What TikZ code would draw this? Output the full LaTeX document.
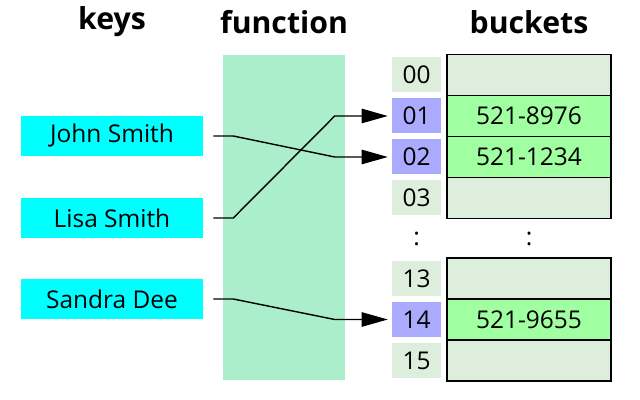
\documentclass[tikz,border=0pt]{standalone}
\usepackage{fontspec}
\setmainfont{Open Sans}
\usetikzlibrary{arrows.meta}
\definecolor{keycol}{HTML}{00FFFF}
\definecolor{funccol}{HTML}{AAEECC}
\definecolor{idxcol}{HTML}{DDEEDD}
\definecolor{hitcol}{HTML}{AAAAFF}
\definecolor{emptycol}{HTML}{DDEEDD}
\definecolor{fullcol}{HTML}{A0FFA0}
\begin{document}
\begin{tikzpicture}[
    every node/.style={font=\fontsize{17.4}{20}\selectfont},
    head/.style={font=\bfseries\fontsize{21.5}{24}\selectfont},
    keybox/.style={fill=keycol, minimum width=4.55cm, minimum height=1cm, inner sep=0pt},
    idxbox/.style={minimum width=1.225cm, minimum height=0.875cm, inner sep=0pt},
    cellbox/.style={draw=black, line width=1.1pt, minimum width=4.1cm, minimum height=1.025cm, inner sep=0pt},
    link/.style={line width=1pt, -{Triangle[length=6.5mm,width=3.6mm]}, shorten >=1mm}
  ]
  \useasboundingbox (0,0) rectangle (16,-10);
  % Überschriften
  \node[head] (hkeys) at (2.8,-0.55) {keys};
  \node[head] (hfunc) at (7.1,-0.55) {function};
  \node[head] (hbuck) at (13.225,-0.55) {buckets};
  % Hashfunktion
  \node[fill=funccol, minimum width=3.05cm, minimum height=8.125cm, inner sep=0pt] (func) at (7.1,-5.4375) {};
  % Schlüssel
  \node[keybox] (john) at (2.8,-3.4) {John Smith};
  \node[keybox] (lisa) at (2.8,-5.45) {Lisa Smith};
  \node[keybox] (sandra) at (2.8,-7.475) {Sandra Dee};
  % Buckets oben
  \foreach \n/\y/\ic/\cc/\v in {00/-1.875/idxcol/emptycol/{},
                                01/-2.9/hitcol/fullcol/521-8976,
                                02/-3.925/hitcol/fullcol/521-1234,
                                03/-4.95/idxcol/emptycol/{}} {
    \node[idxbox, fill=\ic] (idx\n) at (10.4125,\y) {\n};
    \node[cellbox, fill=\cc] (cell\n) at (13.225,\y) {\v};
  }
  % Buckets unten
  \foreach \n/\y/\ic/\cc/\v in {13/-6.9625/idxcol/emptycol/{},
                                14/-7.9875/hitcol/fullcol/521-9655,
                                15/-9.0125/idxcol/emptycol/{}} {
    \node[idxbox, fill=\ic] (idx\n) at (10.4125,\y) {\n};
    \node[cellbox, fill=\cc] (cell\n) at (13.225,\y) {\v};
  }
  % Auslassung
  \node (dotsidx) at (10.4125,-5.975) {:};
  \node (dotscell) at (13.225,-5.975) {:};
  % Zuordnung
  \draw[link] ([xshift=2.5mm]john.east) -- ++(0.5,0) -- ([xshift=-14.25mm]idx02.west) -- (idx02.west);
  \draw[link] ([xshift=2.5mm]lisa.east) -- ++(0.5,0) -- ([xshift=-14.25mm]idx01.west) -- (idx01.west);
  \draw[link] ([xshift=2.5mm]sandra.east) -- ++(0.5,0) -- ([xshift=-14.25mm]idx14.west) -- (idx14.west);
\end{tikzpicture}
\end{document}
